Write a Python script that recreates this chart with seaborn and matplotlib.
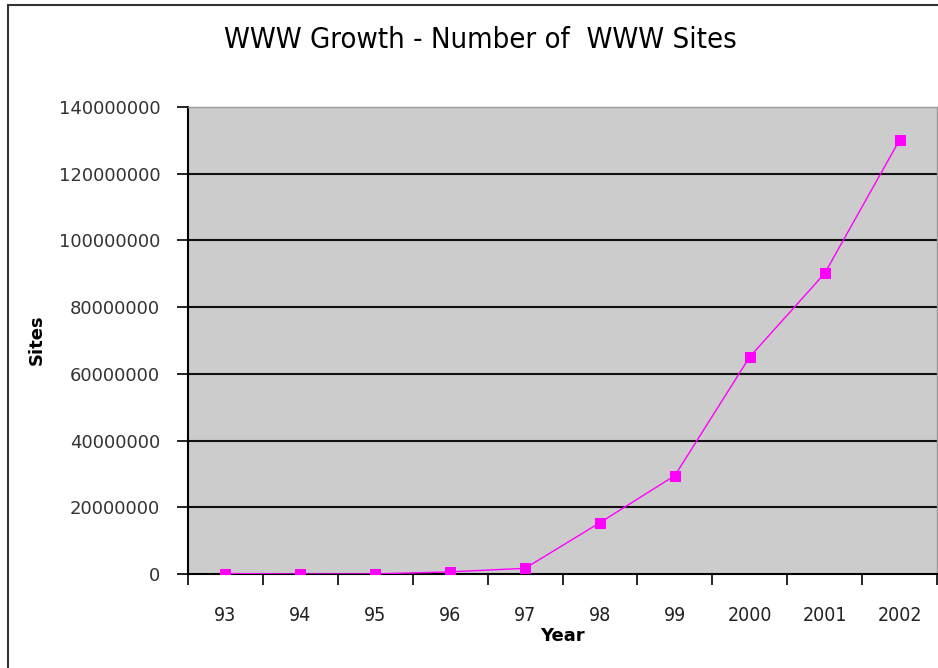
import matplotlib
matplotlib.use("Agg")
import matplotlib.pyplot as plt
import seaborn as sns
import numpy as np
from matplotlib.ticker import FixedLocator, NullFormatter

years = ['93', '94', '95', '96', '97', '98', '99', '2000', '2001', '2002']
sites = [130000, 2700, 23500, 650000, 1700000, 15400000, 29500000, 65100000, 90100000, 130100000]
y_ticks = [0, 20000000, 40000000, 60000000, 80000000, 100000000, 120000000, 140000000]

sns.set_theme(style="white")
plt.rcParams['font.family'] = ['DejaVu Sans']

W, H = 938, 668
fig = plt.figure(figsize=(W / 100, H / 100), dpi=100)
fig.patch.set_facecolor('white')
# outer border
fig.add_artist(plt.Line2D([8 / W, 8 / W], [0, 1 - 5 / H], transform=fig.transFigure, color='#333333', lw=1.5))
fig.add_artist(plt.Line2D([8 / W, 1], [1 - 5 / H, 1 - 5 / H], transform=fig.transFigure, color='#333333', lw=1.5))

ax = fig.add_axes([188 / W, 94 / H, 749 / W, 467 / H])
ax.set_facecolor('#CCCCCC')

pos = np.arange(len(years))
sns.lineplot(x=pos, y=sites, ax=ax, color='#FF00FF', marker='s', markersize=6.5,
             markeredgecolor='#FF00FF', linewidth=1.0, zorder=5)

ax.set_xlim(-0.5, len(years) - 0.5)
ax.set_ylim(0, 140000000)
ax.set_yticks(y_ticks)
ax.set_yticklabels([str(v) for v in y_ticks], fontsize=13, color='#333333')
for v in y_ticks[1:-1]:
    ax.axhline(v, color='#111111', lw=1.5, zorder=1)

ax.xaxis.set_major_locator(FixedLocator(np.arange(-0.5, len(years) + 0.5, 1)))
ax.xaxis.set_major_formatter(NullFormatter())
ax.tick_params(axis='x', which='major', length=8, width=1.2, color='black', direction='out', bottom=True)
ax.tick_params(axis='x', which='minor', length=0, pad=23, bottom=True)
ax.set_xticks(pos, minor=True)
ax.set_xticklabels(years, minor=True, fontsize=14, color='#222222')
ax.tick_params(axis='y', length=8, width=1.2, color='black', direction='out', left=True, pad=12)

for s in ['left', 'bottom']:
    ax.spines[s].set_color('black')
    ax.spines[s].set_linewidth(1.5)
for s in ['top', 'right']:
    ax.spines[s].set_color('#999999')
    ax.spines[s].set_linewidth(1.0)
ax.grid(False)
ax.set_xlabel('')
ax.set_ylabel('')

fig.text(480 / W, 1 - 40 / H, 'WWW Growth - Number of  WWW Sites', ha='center', va='center',
         fontsize=21, color='black', fontstretch='condensed')
fig.text(37 / W, 1 - 340 / H, 'Sites', rotation=90, ha='center', va='center',
         fontsize=13, fontweight='bold', color='black')
fig.text(562 / W, 1 - 636 / H, 'Year', ha='center', va='center',
         fontsize=13, fontweight='bold', color='black')

fig.canvas.draw()
for lbl in ax.xaxis.get_ticklabels(minor=True):
    lbl.set_fontstretch('condensed')

fig.savefig('out.png', dpi=100)
